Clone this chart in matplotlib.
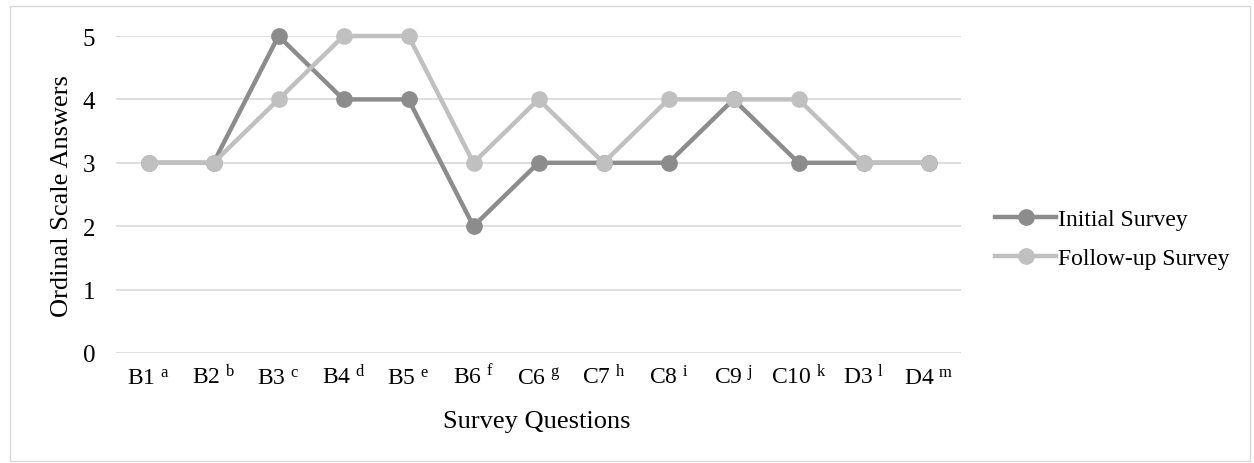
import matplotlib
matplotlib.use("Agg")
import matplotlib.pyplot as plt
from matplotlib.patches import Rectangle

plt.rcParams['font.family'] = ['Liberation Serif', 'DejaVu Serif']
plt.rcParams['mathtext.fontset'] = 'custom'
plt.rcParams['mathtext.rm'] = 'Liberation Serif'
plt.rcParams['mathtext.it'] = 'Liberation Serif:italic'

questions = ["B1", "B2", "B3", "B4", "B5", "B6", "C6", "C7", "C8", "C9", "C10", "D3", "D4"]
notes = ["a", "b", "c", "d", "e", "f", "g", "h", "i", "j", "k", "l", "m"]
initial = [3, 3, 5, 4, 4, 2, 3, 3, 3, 4, 3, 3, 3]
followup = [3, 3, 4, 5, 5, 3, 4, 3, 4, 4, 4, 3, 3]

W, H = 1254, 464
fig = plt.figure(figsize=(W / 100, H / 100), dpi=100)
fig.patches.append(Rectangle((10 / W, 2 / H), 1 - 14 / W, 1 - 9 / H, transform=fig.transFigure,
                             fill=False, edgecolor='#d9d9d9', linewidth=1))

ax = fig.add_axes([116 / W, 1 - 354 / H, 845 / W, 317 / H])
x = list(range(len(questions)))
ax.plot(x, initial, color='#8c8c8c', lw=3.2, marker='o', ms=11, label='Initial Survey', clip_on=False, zorder=3)
ax.plot(x, followup, color='#c0c0c0', lw=3.2, marker='o', ms=11, label='Follow-up Survey', clip_on=False, zorder=4)

ax.set_xlim(-0.5, len(questions) - 0.5)
ax.set_ylim(0, 5)
ax.set_yticks(range(0, 6))
ax.set_xticks(x)
ax.set_xticklabels([f"{q} $^{{\\mathrm{{{n}}}}}$" for q, n in zip(questions, notes)], fontsize=17)
for lab in ax.get_xticklabels():
    lab.set_verticalalignment('baseline')
ax.tick_params(axis='both', length=0, colors='black')
ax.tick_params(axis='y', labelsize=18, pad=15)
ax.tick_params(axis='x', pad=22)
for s in ax.spines.values():
    s.set_visible(False)
ax.grid(axis='y', color='#d9d9d9', lw=1.2)
ax.set_axisbelow(True)

fig.text(537 / W, 1 - 422 / H, 'Survey Questions', fontsize=19, ha='center', va='center')
fig.text(62 / W, 1 - 196 / H, 'Ordinal Scale Answers', fontsize=19, ha='center', va='center', rotation=90)

ax.legend(loc='center left', bbox_to_anchor=(995 / W, 1 - 240 / H), bbox_transform=fig.transFigure,
          frameon=False, fontsize=17, handlelength=2.6, handletextpad=0.05, labelspacing=0.75,
          borderaxespad=0, borderpad=0)

fig.savefig('out.png', dpi=100)
